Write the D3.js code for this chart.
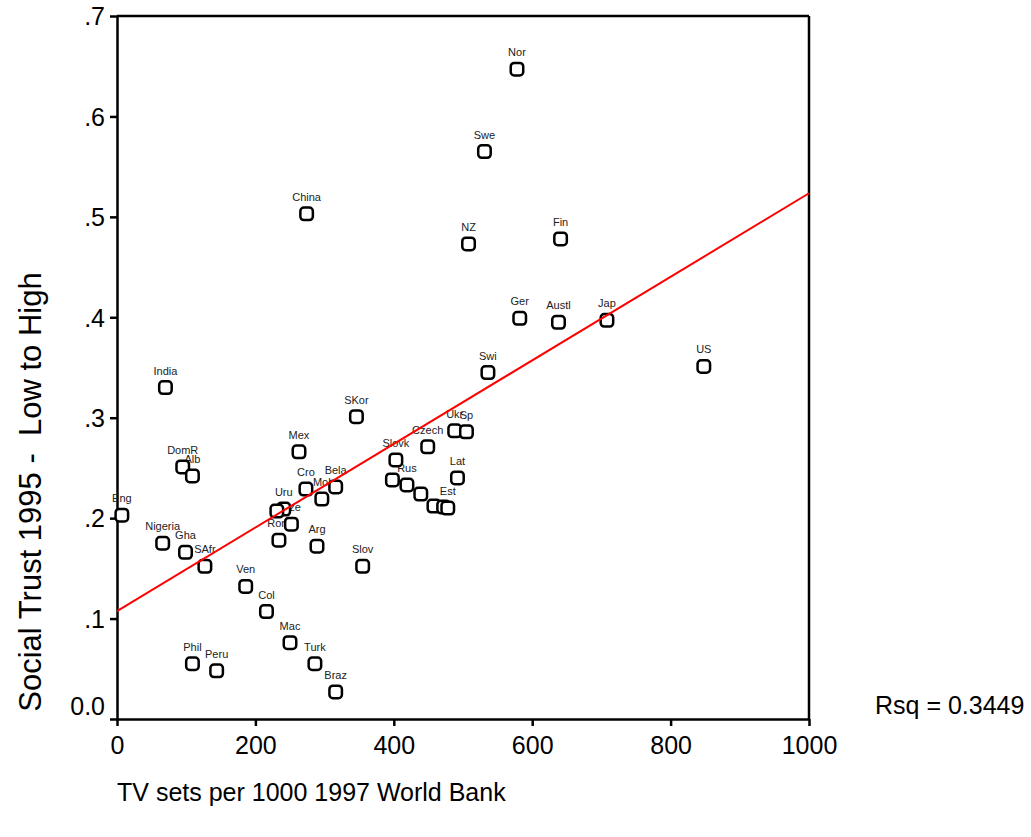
<!DOCTYPE html>
<html>
<head>
<meta charset="utf-8">
<script src="https://cdn.jsdelivr.net/npm/d3@7"></script>
<style>
  body { margin: 0; background: #fff; }
  text { font-family: Arial, "Liberation Sans", sans-serif; fill: #000; }
  .axis path, .axis line { stroke: #000; stroke-width: 2.5px; }
  .axis text { font-size: 25px; font-family: Arial, "Liberation Sans", sans-serif; }
</style>
</head>
<body>
<script>
// country labels ('' = point drawn without a visible label)
const countries = ['Nor', 'Swe', 'China', 'NZ', 'Fin', 'Ger', 'Austl', 'Jap', 'US', 'Swi',
  'India', 'SKor', 'Ukr', 'Sp', 'Czech', 'Mex', 'DomR', 'Alb', 'Slovk', 'Lat',
  '', 'Rus', '', '', '', 'Est', 'Cro', 'Bela', 'Mol', 'Eng',
  'Uru', '', 'Aze', 'Rom', 'Arg', 'Slov', 'Nigeria', 'Gha', 'SAfr', 'Ven',
  'Col', 'Mac', 'Turk', 'Braz', 'Phil', 'Peru'];

// TV sets per 1000 (x)
const tvSets = [578, 531, 274, 508, 641, 582, 638, 708, 848, 536,
  70, 346, 488, 505, 449, 263, 95, 109, 403, 492,
  398, 419, 439, 458, 472, 478, 273, 316, 296, 7,
  241, 231, 252, 234, 289, 355, 66, 99, 127, 186,
  216, 250, 286, 316, 109, 144];

// social trust 1995 (y)
const trust = [0.647, 0.565, 0.503, 0.473, 0.478, 0.399, 0.395, 0.397, 0.351, 0.345,
  0.330, 0.301, 0.287, 0.286, 0.271, 0.266, 0.251, 0.242, 0.258, 0.240,
  0.238, 0.233, 0.224, 0.212, 0.211, 0.210, 0.229, 0.231, 0.219, 0.203,
  0.209, 0.207, 0.194, 0.178, 0.172, 0.152, 0.175, 0.166, 0.152, 0.132,
  0.107, 0.076, 0.055, 0.027, 0.055, 0.048];

const xTicks = [0, 200, 400, 600, 800, 1000];
const yTicks = [0, 0.1, 0.2, 0.3, 0.4, 0.5, 0.6, 0.7];

// linear fit shown in the chart
const fitIntercept = 0.1075;
const fitSlope = 0.000416;
const rsqText = 'Rsq = 0.3449';

document.addEventListener('DOMContentLoaded', () => {
  const data = countries.map((c, i) => ({name: c, x: tvSets[i], y: trust[i]}));

  const W = 1031, H = 837;
  const left = 117, right = 809, top = 16, bottom = 719;

  const svg = d3.select('body').append('svg')
    .attr('width', W)
    .attr('height', H);

  const xScale = d3.scaleLinear().domain([0, 1000]).range([left, right]);
  const yScale = d3.scaleLinear().domain([0, 0.7]).range([bottom, top]);

  // frame top + right
  svg.append('line')
    .attr('x1', left).attr('x2', right).attr('y1', top).attr('y2', top)
    .style('stroke', '#000').style('stroke-width', 2.5);
  svg.append('line')
    .attr('x1', right).attr('x2', right).attr('y1', top).attr('y2', bottom)
    .style('stroke', '#000').style('stroke-width', 2.5);

  const yAxis = svg.append('g')
    .attr('class', 'axis')
    .attr('transform', `translate(${left},0)`)
    .call(d3.axisLeft(yScale).tickValues(yTicks).tickSize(7).tickSizeOuter(0)
      .tickFormat(d => d === 0 ? '0.0' : d3.format('.1f')(d).replace(/^0/, '')));
  yAxis.selectAll('.tick text').attr('x', -12).attr('dy', '0.35em');
  yAxis.selectAll('.tick text').filter(d => d === 0).attr('dy', '-0.2em');

  const xAxis = svg.append('g')
    .attr('class', 'axis')
    .attr('transform', `translate(0,${bottom})`)
    .call(d3.axisBottom(xScale).tickValues(xTicks).tickSize(7).tickSizeOuter(0)
      .tickFormat(d3.format('d')));
  xAxis.selectAll('.tick text').attr('y', 17).attr('dy', '0.71em');

  // point labels first, markers on top of them
  svg.append('g').selectAll('.lbl')
    .data(data.filter(d => d.name !== ''))
    .enter().append('text')
      .attr('class', 'lbl')
      .attr('x', d => xScale(d.x))
      .attr('y', d => yScale(d.y) - 13)
      .attr('text-anchor', 'middle')
      .style('font-size', '11px')
      .style('fill', '#222')
      .text(d => d.name);

  svg.append('g').selectAll('.pt')
    .data(data)
    .enter().append('rect')
      .attr('class', 'pt')
      .attr('x', d => xScale(d.x) - 6.25)
      .attr('y', d => yScale(d.y) - 6.25)
      .attr('width', 12.5)
      .attr('height', 12.5)
      .attr('rx', 3.5)
      .style('fill', '#fff')
      .style('stroke', '#000')
      .style('stroke-width', 2.5);

  // fit line
  svg.append('line')
    .attr('x1', xScale(0)).attr('y1', yScale(fitIntercept))
    .attr('x2', xScale(1000)).attr('y2', yScale(fitIntercept + fitSlope * 1000))
    .style('stroke', '#ff0000')
    .style('stroke-width', 2);

  svg.append('text')
    .attr('x', 875)
    .attr('y', 714)
    .style('font-size', '25px')
    .text(rsqText);

  svg.append('text')
    .attr('x', left)
    .attr('y', 801)
    .style('font-size', '25px')
    .text('TV sets per 1000 1997 World Bank');

  svg.append('text')
    .attr('transform', 'translate(41,492) rotate(-90)')
    .attr('text-anchor', 'middle')
    .style('font-size', '31px')
    .style('white-space', 'pre')
    .text('Social Trust 1995 -  Low to High');
}, false);
</script>
</body>
</html>
